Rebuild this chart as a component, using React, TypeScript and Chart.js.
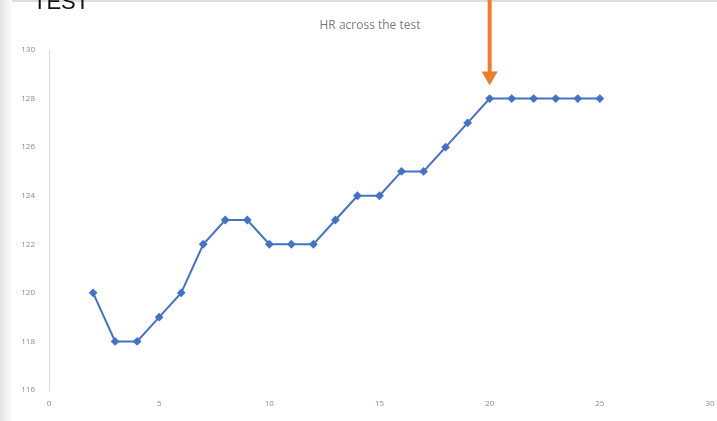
import React, { useEffect, useRef } from "react";
import { Chart, registerables } from "chart.js";

Chart.register(...registerables);

const minutes = [2, 3, 4, 5, 6, 7, 8, 9, 10, 11, 12, 13, 14, 15, 16, 17, 18, 19, 20, 21, 22, 23, 24, 25];
const heartRate = [120, 118, 118, 119, 120, 122, 123, 123, 122, 122, 122, 123, 124, 124, 125, 125, 126, 127, 128, 128, 128, 128, 128, 128];
const xTicks = [0, 5, 10, 15, 20, 25, 30];
const yTicks = [116, 118, 120, 122, 124, 126, 128, 130];
const chartTitle = "HR across the test";
const headerText = "TEST";
const arrowAt = 20;

const decor = {
  id: "decor",
  beforeDraw(chart: any) {
    const ctx = chart.ctx;
    ctx.save();
    ctx.fillStyle = "#ffffff";
    ctx.fillRect(0, 0, chart.width, chart.height);
    const g = ctx.createLinearGradient(0, 0, 13, 0);
    g.addColorStop(0, "#e4e4e4");
    g.addColorStop(1, "#ffffff");
    ctx.fillStyle = g;
    ctx.fillRect(0, 0, 13, chart.height);
    ctx.fillStyle = "#dddddd";
    ctx.fillRect(12, 0, chart.width - 12, 2);
    ctx.restore();
  },
  afterDraw(chart: any) {
    const ctx = chart.ctx;
    const xs = chart.scales.x;
    const ys = chart.scales.y;
    ctx.save();
    ctx.fillStyle = "#111111";
    ctx.font = "22px 'Liberation Sans', Arial, sans-serif";
    ctx.textBaseline = "alphabetic";
    ctx.fillText(headerText, 33, 9);
    ctx.fillStyle = "#7a7a7a";
    ctx.font = "12px 'Open Sans', sans-serif";
    ctx.textAlign = "center";
    ctx.fillText(chartTitle, 370, 29);
    const ax = xs.getPixelForValue(arrowAt);
    const tipY = ys.getPixelForValue(128) - 13;
    ctx.fillStyle = "#ED7D31";
    ctx.fillRect(ax - 2, 0, 4, tipY - 12);
    ctx.beginPath();
    ctx.moveTo(ax - 8, tipY - 14);
    ctx.lineTo(ax + 8, tipY - 14);
    ctx.lineTo(ax, tipY);
    ctx.closePath();
    ctx.fill();
    ctx.restore();
  },
};

export default function App() {
  const ref = useRef<HTMLCanvasElement>(null);
  useEffect(() => {
    document.body.style.margin = "0";
    const chart = new Chart(ref.current!, {
      type: "line",
      data: {
        datasets: [
          {
            data: minutes.map((m, i) => ({ x: m, y: heartRate[i] })),
            borderColor: "#4472C4",
            backgroundColor: "#4472C4",
            borderWidth: 2,
            pointStyle: "rectRot",
            pointRadius: 3,
            tension: 0,
          },
        ],
      },
      options: {
        animation: false,
        responsive: false,
        layout: { padding: { left: 0, right: 0, top: 50, bottom: 0 } },
        plugins: { legend: { display: false }, title: { display: false }, tooltip: { enabled: false } },
        scales: {
          x: {
            type: "linear",
            min: 0,
            max: 30,
            afterBuildTicks: (s: any) => { s.ticks = xTicks.map((v) => ({ value: v })); },
            afterFit: (s: any) => { s.height = 31; s.paddingRight = 7; },
            grid: { display: false, drawTicks: false },
            border: { display: false },
            ticks: { color: "#8a8a8a", font: { size: 8, family: "'Open Sans', sans-serif" }, padding: 9, maxRotation: 0 },
          },
          y: {
            min: 116,
            max: 130,
            afterBuildTicks: (s: any) => { s.ticks = yTicks.map((v) => ({ value: v })); },
            afterFit: (s: any) => { s.width = 49; },
            grid: { display: false, drawTicks: false },
            border: { display: true, color: "#d9d9d9", width: 1 },
            ticks: { color: "#8a8a8a", font: { size: 8, family: "'Open Sans', sans-serif" }, padding: 14 },
          },
        },
      },
      plugins: [decor],
    });
    return () => chart.destroy();
  }, []);
  return <canvas ref={ref} width={717} height={421} style={{ display: "block" }} />;
}
